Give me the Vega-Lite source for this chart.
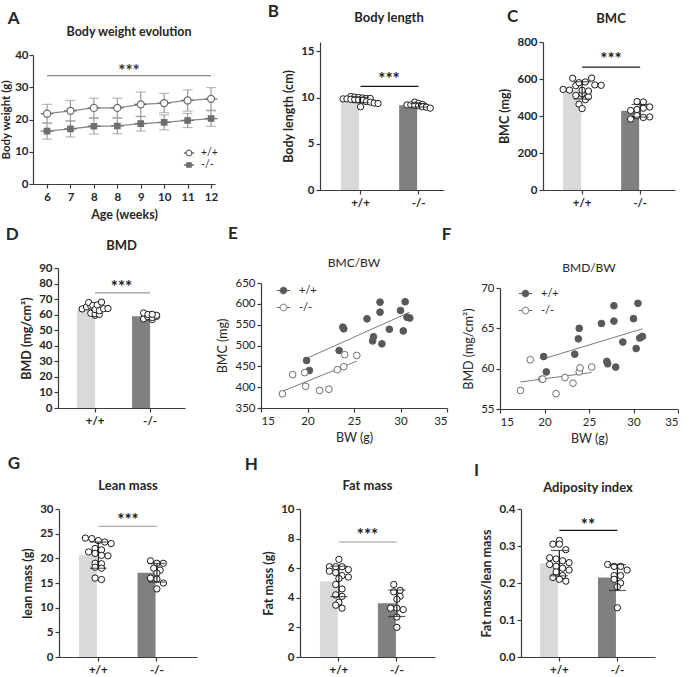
{
"$schema":"https://vega.github.io/schema/vega-lite/v6.json",
"background":"white",
"padding":{"left":0,"top":2,"right":0,"bottom":0},
"config":{
 "font":"Lato",
 "view":{"stroke":null},
 "axis":{"grid":false,"labelOverlap":false,"domainColor":"#3a3a3a","tickColor":"#3a3a3a","domainWidth":1.2,"tickWidth":1.2,"tickSize":4,"labelFont":"Lato","labelFontSize":11.5,"labelFontWeight":"bold","labelColor":"#262626","titleFont":"Lato","titleFontSize":12.5,"titleFontWeight":"bold","titleColor":"#262626","labelPadding":2,"titlePadding":5},
 "axisX":{"labelAngle":0,"labelPadding":3},
 "title":{"font":"Lato","fontSize":13,"fontWeight":"bold","color":"#262626"},
 "legend":{"labelFont":"Lato"}
},
"resolve":{"scale":{"color":"independent","fill":"independent","stroke":"independent","shape":"independent","xOffset":"independent"},"legend":{"color":"independent","fill":"independent","stroke":"independent","shape":"independent"}},
"datasets":{
 "A":[
  {"i":1,"g":"+/+","m":21.8,"sd":2.9},{"i":2,"g":"+/+","m":22.7,"sd":3.2},{"i":3,"g":"+/+","m":23.6,"sd":3.0},{"i":4,"g":"+/+","m":23.6,"sd":3.0},
  {"i":5,"g":"+/+","m":24.7,"sd":3.8},{"i":6,"g":"+/+","m":25.1,"sd":3.0},{"i":7,"g":"+/+","m":25.9,"sd":3.3},{"i":8,"g":"+/+","m":26.4,"sd":3.5},
  {"i":1,"g":"-/-","m":16.4,"sd":2.5},{"i":2,"g":"-/-","m":17.1,"sd":2.5},{"i":3,"g":"-/-","m":17.9,"sd":2.4},{"i":4,"g":"-/-","m":18.0,"sd":2.4},
  {"i":5,"g":"-/-","m":18.7,"sd":2.3},{"i":6,"g":"-/-","m":19.1,"sd":2.3},{"i":7,"g":"-/-","m":19.7,"sd":2.2},{"i":8,"g":"-/-","m":20.3,"sd":2.4}
 ],
 "scatter":[
  {"g":"+/+","BW":19.9,"BMC":464,"BMD":61.5},{"g":"+/+","BW":20.2,"BMC":440,"BMD":59.6},{"g":"+/+","BW":23.4,"BMC":488,"BMD":61.8},
  {"g":"+/+","BW":23.8,"BMC":544,"BMD":63.7},{"g":"+/+","BW":23.9,"BMC":540,"BMD":65.0},{"g":"+/+","BW":26.4,"BMC":564,"BMD":65.6},
  {"g":"+/+","BW":27.0,"BMC":511,"BMD":60.9},{"g":"+/+","BW":27.1,"BMC":521,"BMD":60.6},{"g":"+/+","BW":27.8,"BMC":604,"BMD":67.8},
  {"g":"+/+","BW":27.8,"BMC":580,"BMD":65.9},{"g":"+/+","BW":28.0,"BMC":504,"BMD":60.2},{"g":"+/+","BW":28.8,"BMC":539,"BMD":63.3},
  {"g":"+/+","BW":30.0,"BMC":584,"BMD":66.2},{"g":"+/+","BW":30.5,"BMC":605,"BMD":68.1},{"g":"+/+","BW":30.3,"BMC":535,"BMD":62.5},
  {"g":"+/+","BW":30.7,"BMC":568,"BMD":63.8},{"g":"+/+","BW":31.0,"BMC":566,"BMD":64.0},
  {"g":"-/-","BW":17.3,"BMC":384,"BMD":57.3},{"g":"-/-","BW":18.4,"BMC":430,"BMD":61.1},{"g":"-/-","BW":19.7,"BMC":435,"BMD":58.7},
  {"g":"-/-","BW":19.8,"BMC":402,"BMD":58.7},{"g":"-/-","BW":21.3,"BMC":392,"BMD":56.9},{"g":"-/-","BW":22.3,"BMC":395,"BMD":58.9},
  {"g":"-/-","BW":23.2,"BMC":442,"BMD":58.2},{"g":"-/-","BW":23.9,"BMC":449,"BMD":59.6},{"g":"-/-","BW":24.0,"BMC":478,"BMD":60.1},
  {"g":"-/-","BW":25.3,"BMC":476,"BMD":60.2}
 ],
 "B":[
  {"g":"+/+","v":10.1},{"g":"+/+","v":10.05},{"g":"+/+","v":10.0},{"g":"+/+","v":9.95},{"g":"+/+","v":9.9},{"g":"+/+","v":9.9},{"g":"+/+","v":9.85},{"g":"+/+","v":9.85},{"g":"+/+","v":9.8},{"g":"+/+","v":9.8},{"g":"+/+","v":9.75},{"g":"+/+","v":9.7},{"g":"+/+","v":9.55},{"g":"+/+","v":9.5},{"g":"+/+","v":9.4},{"g":"+/+","v":9.35},{"g":"+/+","v":9.0},
  {"g":"-/-","v":9.5},{"g":"-/-","v":9.35},{"g":"-/-","v":9.25},{"g":"-/-","v":9.2},{"g":"-/-","v":9.2},{"g":"-/-","v":9.15},{"g":"-/-","v":9.1},{"g":"-/-","v":9.0},{"g":"-/-","v":8.95},{"g":"-/-","v":8.85}
 ],
 "G":[
  {"g":"+/+","v":24.1},{"g":"+/+","v":24.0},{"g":"+/+","v":23.6},{"g":"+/+","v":23.3},{"g":"+/+","v":23.0},{"g":"+/+","v":22.0},{"g":"+/+","v":21.7},{"g":"+/+","v":21.3},{"g":"+/+","v":21.0},{"g":"+/+","v":20.6},{"g":"+/+","v":20.5},{"g":"+/+","v":19.0},{"g":"+/+","v":18.9},{"g":"+/+","v":18.2},{"g":"+/+","v":18.0},{"g":"+/+","v":16.0},{"g":"+/+","v":15.7},
  {"g":"-/-","v":19.5},{"g":"-/-","v":19.0},{"g":"-/-","v":19.0},{"g":"-/-","v":18.0},{"g":"-/-","v":17.6},{"g":"-/-","v":17.0},{"g":"-/-","v":16.0},{"g":"-/-","v":15.8},{"g":"-/-","v":15.0},{"g":"-/-","v":13.8}
 ],
 "H":[
  {"g":"+/+","v":6.6},{"g":"+/+","v":6.1},{"g":"+/+","v":6.1},{"g":"+/+","v":6.1},{"g":"+/+","v":5.9},{"g":"+/+","v":5.8},{"g":"+/+","v":5.7},{"g":"+/+","v":5.5},{"g":"+/+","v":5.4},{"g":"+/+","v":5.3},{"g":"+/+","v":4.9},{"g":"+/+","v":4.6},{"g":"+/+","v":4.2},{"g":"+/+","v":4.1},{"g":"+/+","v":3.7},{"g":"+/+","v":3.5},{"g":"+/+","v":3.3},
  {"g":"-/-","v":4.9},{"g":"-/-","v":4.5},{"g":"-/-","v":4.4},{"g":"-/-","v":4.1},{"g":"-/-","v":3.9},{"g":"-/-","v":3.3},{"g":"-/-","v":3.3},{"g":"-/-","v":3.2},{"g":"-/-","v":2.7},{"g":"-/-","v":2.0}
 ],
 "I":[
  {"g":"+/+","v":0.315},{"g":"+/+","v":0.305},{"g":"+/+","v":0.305},{"g":"+/+","v":0.29},{"g":"+/+","v":0.268},{"g":"+/+","v":0.265},{"g":"+/+","v":0.26},{"g":"+/+","v":0.255},{"g":"+/+","v":0.25},{"g":"+/+","v":0.245},{"g":"+/+","v":0.24},{"g":"+/+","v":0.235},{"g":"+/+","v":0.23},{"g":"+/+","v":0.22},{"g":"+/+","v":0.215},{"g":"+/+","v":0.21},{"g":"+/+","v":0.205},
  {"g":"-/-","v":0.25},{"g":"-/-","v":0.245},{"g":"-/-","v":0.245},{"g":"-/-","v":0.235},{"g":"-/-","v":0.22},{"g":"-/-","v":0.22},{"g":"-/-","v":0.21},{"g":"-/-","v":0.2},{"g":"-/-","v":0.19},{"g":"-/-","v":0.133}
 ]
},
"spacing":3,
"vconcat":[
 {"spacing":46,"resolve":{"scale":{"color":"independent","fill":"independent","stroke":"independent","shape":"independent","xOffset":"independent"},"legend":{"color":"independent","fill":"independent","stroke":"independent","shape":"independent"}},"hconcat":[
  {"title":{"text":"A","anchor":"start","frame":"bounds","fontSize":17,"offset":-2.3,"dx":7},
   "resolve":{"scale":{"fill":"independent","stroke":"independent","shape":"independent"},"legend":{"fill":"independent","stroke":"independent","shape":"independent"}},
   "vconcat":[{
    "title":{"text":"Body weight evolution","frame":"group","offset":3.7,"dx":5,"fontSize":12.5},
    "width":182,"height":142,
    "data":{"name":"A"},
    "layer":[
     {"mark":{"type":"errorbar","ticks":true,"size":10,"thickness":1.2,"color":"#9a9a9a"},
      "encoding":{"x":{"field":"i","type":"ordinal","title":"Age (weeks)","scale":{"type":"point","padding":0.384,"align":0.78},"axis":{"labelExpr":"['6','7','8','8','9','10','11','12'][datum.value-1]","labelAngle":0,"titlePadding":6}},
       "y":{"field":"m","type":"quantitative","title":"Body weight (g)","scale":{"domain":[0,40],"range":[142,13]},"axis":{"values":[0,10,20,30,40],"tickCount":20,"labelPadding":1,"titlePadding":3,"titleFontSize":11.5}},
       "yError":{"field":"sd"}}},
     {"mark":{"type":"line","color":"#8a8a8a","strokeWidth":1.3},
      "encoding":{"x":{"field":"i","type":"ordinal","title":"Age (weeks)"},"y":{"field":"m","type":"quantitative","title":"Body weight (g)"},"detail":{"field":"g"}}},
     {"mark":{"type":"point","filled":true,"size":162,"strokeWidth":1.3,"opacity":1},
      "encoding":{"x":{"field":"i","type":"ordinal","title":"Age (weeks)"},"y":{"field":"m","type":"quantitative","title":"Body weight (g)"},
       "shape":{"field":"g","type":"nominal","scale":{"domain":["+/+","-/-"],"range":["M-1,0H-0.55M0.55,0H1M0.55,0A0.55,0.55,0,1,1,-0.55,0A0.55,0.55,0,1,1,0.55,0","M-1,0H-0.42M0.42,0H1M-0.42,-0.42H0.42V0.42H-0.42Z"]},
        "legend":{"title":null,"orient":"none","legendX":150,"legendY":105,"padding":0,"symbolSize":105,"symbolStrokeWidth":1.3,"labelFontSize":10.5,"labelFontWeight":"normal","labelColor":"#262626","rowPadding":0,"labelOffset":6}},
       "stroke":{"field":"g","type":"nominal","scale":{"domain":["+/+","-/-"],"range":["#6e6e6e","#6e6e6e"]},
        "legend":{"title":null,"orient":"none","legendX":150,"legendY":105,"padding":0,"symbolSize":105,"symbolStrokeWidth":1.3,"labelFontSize":10.5,"labelFontWeight":"normal","labelColor":"#262626","rowPadding":0,"labelOffset":6}},
       "fill":{"field":"g","type":"nominal","scale":{"domain":["+/+","-/-"],"range":["#ffffff","#6e6e6e"]},
        "legend":{"title":null,"orient":"none","legendX":150,"legendY":105,"padding":0,"symbolSize":105,"symbolStrokeWidth":1.3,"labelFontSize":10.5,"labelFontWeight":"normal","labelColor":"#262626","rowPadding":0,"labelOffset":6}}}},
     {"data":{"values":[{"a":1,"b":8,"y":33.6,"ys":36.1,"t":"***"}]},"mark":{"type":"rule","color":"#8a8a8a","strokeWidth":1.2},
      "encoding":{"x":{"field":"a","type":"ordinal","title":"Age (weeks)"},"x2":{"field":"b"},"y":{"field":"y","type":"quantitative","title":"Body weight (g)"}}},
     {"data":{"values":[{"a":1,"b":8,"y":33.6,"ys":36.1,"t":"***"}]},"mark":{"type":"text","fontSize":17,"fontWeight":"bold","color":"#333333","dx":5,"dy":4},
      "encoding":{"y":{"field":"ys","type":"quantitative","title":"Body weight (g)"},"text":{"field":"t"}}}
    ]
   }]
  },
  {"spacing":54,"resolve":{"scale":{"color":"independent","fill":"independent","stroke":"independent","shape":"independent","xOffset":"independent"},"legend":{"color":"independent","fill":"independent","stroke":"independent","shape":"independent"}},"hconcat":[
   {"title":{"text":"B","anchor":"start","frame":"bounds","fontSize":17,"offset":-8.8,"dx":-15},
    "vconcat":[{
     "title":{"text":"Body length","frame":"group","offset":17.2,"dx":7},
     "width":124,"height":148,
     "data":{"name":"B"},
     "layer":[
      {"mark":{"type":"bar","opacity":1},"encoding":{"x":{"field":"g","type":"nominal","title":null,"scale":{"domain":["+/+","-/-"],"paddingInner":0.33,"paddingOuter":0.233,"align":0.78},"axis":{"labelAngle":0}},
        "y":{"aggregate":"mean","field":"v","type":"quantitative","title":"Body length (cm)","scale":{"domain":[0,15]},"axis":{"values":[0,5,10,15],"tickCount":20}},
        "color":{"field":"g","type":"nominal","scale":{"domain":["+/+","-/-"],"range":["#d9d9d9","#808080"]},"legend":null}}},
      {"transform":[{"bin":{"step":0.66},"field":"v","as":"vb"},{"window":[{"op":"row_number","as":"r"},{"op":"count","as":"n"}],"groupby":["g","vb"],"frame":[null,null]},{"calculate":"datum.r-(datum.n+1)/2","as":"off"}],
       "mark":{"type":"point","filled":true,"fill":"#ffffff","stroke":"#1a1a1a","strokeWidth":1,"size":40,"opacity":1},
       "encoding":{"x":{"field":"g","type":"nominal","title":null},"xOffset":{"field":"off","type":"quantitative","scale":{"domain":[-5,5]}},"y":{"field":"v","type":"quantitative","title":"Body length (cm)"}}},
      {"mark":{"type":"errorbar","extent":"stdev","ticks":true,"size":17,"thickness":1.2,"color":"#1a1a1a"},"encoding":{"x":{"field":"g","type":"nominal","title":null},"y":{"field":"v","type":"quantitative","title":"Body length (cm)"}}},
      {"data":{"values":[{"a":"+/+","b":"-/-","y":11.2,"ys":12.3,"t":"***"}]},"mark":{"type":"rule","color":"#1a1a1a","strokeWidth":1.2},
       "encoding":{"x":{"field":"a","type":"nominal","title":null},"x2":{"field":"b"},"y":{"field":"y","type":"quantitative","title":"Body length (cm)"}}},
      {"data":{"values":[{"a":"+/+","b":"-/-","y":11.2,"ys":12.3,"t":"***"}]},"mark":{"type":"text","fontSize":17,"fontWeight":"bold","color":"#1a1a1a","dx":7,"dy":4},
       "encoding":{"y":{"field":"ys","type":"quantitative","title":"Body length (cm)"},"text":{"field":"t"}}}
     ]
    }]
   },
   {"title":{"text":"C","anchor":"start","frame":"bounds","fontSize":17,"offset":-13,"dx":8},
    "vconcat":[{
     "title":{"text":"BMC","frame":"group","offset":10.2,"dx":2},
     "width":132,"height":148,
     "data":{"name":"scatter"},
     "layer":[
      {"mark":{"type":"bar","opacity":1},"encoding":{"x":{"field":"g","type":"nominal","title":null,"scale":{"domain":["+/+","-/-"],"paddingInner":0.345,"paddingOuter":0.31,"align":0.56},"axis":{"labelAngle":0}},
        "y":{"aggregate":"mean","field":"BMC","type":"quantitative","title":"BMC (mg)","scale":{"domain":[0,800]},"axis":{"values":[0,200,400,600,800],"tickCount":20}},
        "color":{"field":"g","type":"nominal","scale":{"domain":["+/+","-/-"],"range":["#d9d9d9","#808080"]},"legend":null}}},
      {"transform":[{"bin":{"step":38},"field":"BMC","as":"vb"},{"window":[{"op":"row_number","as":"r"},{"op":"count","as":"n"}],"groupby":["g","vb"],"frame":[null,null]},{"calculate":"datum.r-(datum.n+1)/2","as":"off"}],
       "mark":{"type":"point","filled":true,"fill":"#ffffff","stroke":"#1a1a1a","strokeWidth":1,"size":40,"opacity":1},
       "encoding":{"x":{"field":"g","type":"nominal","title":null},"xOffset":{"field":"off","type":"quantitative","scale":{"domain":[-3,3]}},"y":{"field":"BMC","type":"quantitative","title":"BMC (mg)"}}},
      {"mark":{"type":"errorbar","extent":"stdev","ticks":true,"size":17,"thickness":1.2,"color":"#1a1a1a"},"encoding":{"x":{"field":"g","type":"nominal","title":null},"y":{"field":"BMC","type":"quantitative","title":"BMC (mg)"}}},
      {"data":{"values":[{"a":"+/+","b":"-/-","y":664,"ys":722,"t":"***"}]},"mark":{"type":"rule","color":"#1a1a1a","strokeWidth":1.2},
       "encoding":{"x":{"field":"a","type":"nominal","title":null},"x2":{"field":"b"},"y":{"field":"y","type":"quantitative","title":"BMC (mg)"}}},
      {"data":{"values":[{"a":"+/+","b":"-/-","y":664,"ys":722,"t":"***"}]},"mark":{"type":"text","fontSize":17,"fontWeight":"bold","color":"#1a1a1a","dx":2,"dy":4},
       "encoding":{"y":{"field":"ys","type":"quantitative","title":"BMC (mg)"},"text":{"field":"t"}}}
     ]
    }]
   }
  ]}
 ]},
 {"spacing":10,"resolve":{"scale":{"color":"independent","fill":"independent","stroke":"independent","shape":"independent","xOffset":"independent"},"legend":{"color":"independent","fill":"independent","stroke":"independent","shape":"independent"}},"vconcat":[
 {"spacing":31,"resolve":{"scale":{"color":"independent","fill":"independent","stroke":"independent","shape":"independent","xOffset":"independent"},"legend":{"color":"independent","fill":"independent","stroke":"independent","shape":"independent"}},"hconcat":[
  {"title":{"text":"D","anchor":"start","frame":"bounds","fontSize":17,"offset":-4.3,"dx":-15},
   "vconcat":[{
    "title":{"text":"BMD","frame":"group","offset":9.2,"dx":12.5},
    "width":152,"height":140,
    "data":{"name":"scatter"},
    "layer":[
     {"mark":{"type":"bar","opacity":1},"encoding":{"x":{"field":"g","type":"nominal","title":null,"scale":{"domain":["+/+","-/-"],"range":[25,152],"paddingInner":0.345,"paddingOuter":0.327,"align":0.53},"axis":{"labelAngle":0}},
       "y":{"aggregate":"mean","field":"BMD","type":"quantitative","title":"BMD (mg/cm²)","scale":{"domain":[0,90]},"axis":{"values":[0,10,20,30,40,50,60,70,80,90],"tickCount":20,"offset":-25}},
       "color":{"field":"g","type":"nominal","scale":{"domain":["+/+","-/-"],"range":["#d9d9d9","#808080"]},"legend":null}}},
     {"transform":[{"bin":{"step":4.2},"field":"BMD","as":"vb"},{"window":[{"op":"row_number","as":"r"},{"op":"count","as":"n"}],"groupby":["g","vb"],"frame":[null,null]},{"calculate":"datum.r-(datum.n+1)/2","as":"off"}],
      "mark":{"type":"point","filled":true,"fill":"#ffffff","stroke":"#1a1a1a","strokeWidth":1,"size":40,"opacity":1},
      "encoding":{"x":{"field":"g","type":"nominal","title":null},"xOffset":{"field":"off","type":"quantitative","scale":{"domain":[-4.2,4.2]}},"y":{"field":"BMD","type":"quantitative","title":"BMD (mg/cm²)"}}},
     {"data":{"values":[{"a":"+/+","b":"-/-","y":74,"ys":80,"t":"***"}]},"mark":{"type":"rule","color":"#9a9a9a","strokeWidth":1.2},
      "encoding":{"x":{"field":"a","type":"nominal","title":null},"x2":{"field":"b"},"y":{"field":"y","type":"quantitative","title":"BMD (mg/cm²)"}}},
     {"data":{"values":[{"a":"+/+","b":"-/-","y":74,"ys":80,"t":"***"}]},"mark":{"type":"text","fontSize":17,"fontWeight":"bold","color":"#1a1a1a","dy":4,"dx":12.5},
      "encoding":{"y":{"field":"ys","type":"quantitative","title":"BMD (mg/cm²)"},"text":{"field":"t"}}}
    ]
   }]
  },
  {"spacing":-7,"resolve":{"scale":{"color":"independent","fill":"independent","stroke":"independent","shape":"independent","xOffset":"independent"},"legend":{"color":"independent","fill":"independent","stroke":"independent","shape":"independent"}},"hconcat":[
   {"title":{"text":"E","anchor":"start","frame":"bounds","fontSize":17,"offset":14.7,"dx":11},
    "resolve":{"scale":{"fill":"independent","stroke":"independent"},"legend":{"fill":"independent","stroke":"independent"}},
    "vconcat":[{
     "title":{"text":"BMC/BW","frame":"group","offset":-2.3,"fontWeight":"normal","fontSize":12},
     "width":186,"height":140,
     "data":{"name":"scatter"},
     "layer":[
      {"transform":[{"regression":"BMC","on":"BW","groupby":["g"]}],"mark":{"type":"line","color":"#7a7a7a","strokeWidth":1},
       "encoding":{"x":{"field":"BW","type":"quantitative","title":"BW (g)","scale":{"domain":[15,35],"nice":false},"axis":{"values":[15,20,25,30,35],"tickCount":20,"labelFontWeight":"normal","titleFontWeight":"normal"}},
        "y":{"field":"BMC","type":"quantitative","title":"BMC (mg)","scale":{"domain":[350,650],"nice":false,"range":[140,15]},"axis":{"values":[350,400,450,500,550,600,650],"tickCount":20,"labelFontWeight":"normal","titleFontWeight":"normal"}},
        "detail":{"field":"g"}}},
      {"mark":{"type":"point","filled":true,"size":45,"strokeWidth":1,"opacity":1},
       "encoding":{"x":{"field":"BW","type":"quantitative","title":"BW (g)"},"y":{"field":"BMC","type":"quantitative","title":"BMC (mg)"},
        "fill":{"field":"g","type":"nominal","scale":{"domain":["+/+","-/-"],"range":["#595959","#ffffff"]},
         "legend":{"title":null,"orient":"top-left","offset":15,"padding":0,"symbolType":"M-1,0H-0.5M0.5,0H1M0.5,0A0.5,0.5,0,1,1,-0.5,0A0.5,0.5,0,1,1,0.5,0","symbolSize":180,"symbolStrokeWidth":1,"labelFontSize":11,"labelFontWeight":"normal","labelColor":"#262626","rowPadding":4,"labelOffset":8}},
        "stroke":{"field":"g","type":"nominal","scale":{"domain":["+/+","-/-"],"range":["#595959","#6e6e6e"]},
         "legend":{"title":null,"orient":"top-left","offset":15,"padding":0,"symbolType":"M-1,0H-0.5M0.5,0H1M0.5,0A0.5,0.5,0,1,1,-0.5,0A0.5,0.5,0,1,1,0.5,0","symbolSize":180,"symbolStrokeWidth":1,"labelFontSize":11,"labelFontWeight":"normal","labelColor":"#262626","rowPadding":4,"labelOffset":8}}}}
     ]
    }]
   },
   {"title":{"text":"F","anchor":"start","frame":"bounds","fontSize":17,"offset":18.7,"dx":-21},
    "resolve":{"scale":{"fill":"independent","stroke":"independent"},"legend":{"fill":"independent","stroke":"independent"}},
    "vconcat":[{
     "title":{"text":"BMD/BW","frame":"group","offset":-7.3,"fontWeight":"normal","fontSize":12},
     "width":178,"height":141,
     "data":{"name":"scatter"},
     "layer":[
      {"transform":[{"regression":"BMD","on":"BW","groupby":["g"]}],"mark":{"type":"line","color":"#7a7a7a","strokeWidth":1},
       "encoding":{"x":{"field":"BW","type":"quantitative","title":"BW (g)","scale":{"domain":[15,35],"nice":false},"axis":{"values":[15,20,25,30,35],"tickCount":20,"labelFontWeight":"normal","titleFontWeight":"normal"}},
        "y":{"field":"BMD","type":"quantitative","title":"BMD (mg/cm²)","scale":{"domain":[55,70],"nice":false,"range":[141,20]},"axis":{"values":[55,60,65,70],"tickCount":20,"labelFontWeight":"normal","titleFontWeight":"normal"}},
        "detail":{"field":"g"}}},
      {"mark":{"type":"point","filled":true,"size":45,"strokeWidth":1,"opacity":1},
       "encoding":{"x":{"field":"BW","type":"quantitative","title":"BW (g)"},"y":{"field":"BMD","type":"quantitative","title":"BMD (mg/cm²)"},
        "fill":{"field":"g","type":"nominal","scale":{"domain":["+/+","-/-"],"range":["#595959","#ffffff"]},
         "legend":{"title":null,"orient":"top-left","offset":18,"padding":0,"symbolType":"M-1,0H-0.5M0.5,0H1M0.5,0A0.5,0.5,0,1,1,-0.5,0A0.5,0.5,0,1,1,0.5,0","symbolSize":180,"symbolStrokeWidth":1,"labelFontSize":11,"labelFontWeight":"normal","labelColor":"#262626","rowPadding":4,"labelOffset":8}},
        "stroke":{"field":"g","type":"nominal","scale":{"domain":["+/+","-/-"],"range":["#595959","#6e6e6e"]},
         "legend":{"title":null,"orient":"top-left","offset":18,"padding":0,"symbolType":"M-1,0H-0.5M0.5,0H1M0.5,0A0.5,0.5,0,1,1,-0.5,0A0.5,0.5,0,1,1,0.5,0","symbolSize":180,"symbolStrokeWidth":1,"labelFontSize":11,"labelFontWeight":"normal","labelColor":"#262626","rowPadding":4,"labelOffset":8}}}}
     ]
    }]
   }
  ]}
 ]},
 {"spacing":47,"resolve":{"scale":{"color":"independent","fill":"independent","stroke":"independent","shape":"independent","xOffset":"independent"},"legend":{"color":"independent","fill":"independent","stroke":"independent","shape":"independent"}},"hconcat":[
  {"title":{"text":"G","anchor":"start","frame":"bounds","fontSize":17,"offset":6.7,"dx":-14},
   "vconcat":[{
    "title":{"text":"Lean mass","frame":"group","offset":10.2,"dx":13},
    "width":164,"height":148,
    "data":{"name":"G"},
    "layer":[
     {"mark":{"type":"bar","opacity":1},"encoding":{"x":{"field":"g","type":"nominal","title":null,"scale":{"domain":["+/+","-/-"],"range":[26,164],"paddingInner":0.34,"paddingOuter":0.347,"align":0.49},"axis":{"labelAngle":0}},
       "y":{"aggregate":"mean","field":"v","type":"quantitative","title":"lean mass (g)","scale":{"domain":[0,30]},"axis":{"values":[0,5,10,15,20,25,30],"tickCount":20,"offset":-26}},
       "color":{"field":"g","type":"nominal","scale":{"domain":["+/+","-/-"],"range":["#d9d9d9","#808080"]},"legend":null}}},
     {"transform":[{"bin":{"step":1.35},"field":"v","as":"vb"},{"window":[{"op":"row_number","as":"r"},{"op":"count","as":"n"}],"groupby":["g","vb"],"frame":[null,null]},{"calculate":"datum.r-(datum.n+1)/2","as":"off"}],
      "mark":{"type":"point","filled":true,"fill":"#ffffff","stroke":"#1a1a1a","strokeWidth":1,"size":40,"opacity":1},
      "encoding":{"x":{"field":"g","type":"nominal","title":null},"xOffset":{"field":"off","type":"quantitative","scale":{"domain":[-3,3]}},"y":{"field":"v","type":"quantitative","title":"lean mass (g)"}}},
     {"mark":{"type":"errorbar","extent":"stdev","ticks":true,"size":17,"thickness":1.2,"color":"#1a1a1a"},"encoding":{"x":{"field":"g","type":"nominal","title":null},"y":{"field":"v","type":"quantitative","title":"lean mass (g)"}}},
     {"data":{"values":[{"a":"+/+","b":"-/-","y":26.5,"ys":28.4,"t":"***"}]},"mark":{"type":"rule","color":"#9a9a9a","strokeWidth":1.2},
      "encoding":{"x":{"field":"a","type":"nominal","title":null},"x2":{"field":"b"},"y":{"field":"y","type":"quantitative","title":"lean mass (g)"}}},
     {"data":{"values":[{"a":"+/+","b":"-/-","y":26.5,"ys":28.4,"t":"***"}]},"mark":{"type":"text","fontSize":17,"fontWeight":"bold","color":"#1a1a1a","dy":4,"dx":13},
      "encoding":{"y":{"field":"ys","type":"quantitative","title":"lean mass (g)"},"text":{"field":"t"}}}
    ]
   }]
  },
  {"spacing":38,"resolve":{"scale":{"color":"independent","fill":"independent","stroke":"independent","shape":"independent","xOffset":"independent"},"legend":{"color":"independent","fill":"independent","stroke":"independent","shape":"independent"}},"hconcat":[
   {"title":{"text":"H","anchor":"start","frame":"bounds","fontSize":17,"offset":5.7,"dx":-18},
    "vconcat":[{
     "title":{"text":"Fat mass","frame":"group","offset":10.2},
     "width":135,"height":148,
     "data":{"name":"H"},
     "layer":[
      {"mark":{"type":"bar","opacity":1},"encoding":{"x":{"field":"g","type":"nominal","title":null,"scale":{"domain":["+/+","-/-"],"paddingInner":0.345,"paddingOuter":0.336,"align":0.51},"axis":{"labelAngle":0}},
        "y":{"aggregate":"mean","field":"v","type":"quantitative","title":"Fat mass (g)","scale":{"domain":[0,10]},"axis":{"values":[0,2,4,6,8,10],"format":"d","tickCount":20}},
        "color":{"field":"g","type":"nominal","scale":{"domain":["+/+","-/-"],"range":["#d9d9d9","#808080"]},"legend":null}}},
      {"transform":[{"bin":{"step":0.45},"field":"v","as":"vb"},{"window":[{"op":"row_number","as":"r"},{"op":"count","as":"n"}],"groupby":["g","vb"],"frame":[null,null]},{"calculate":"datum.r-(datum.n+1)/2","as":"off"}],
       "mark":{"type":"point","filled":true,"fill":"#ffffff","stroke":"#1a1a1a","strokeWidth":1,"size":40,"opacity":1},
       "encoding":{"x":{"field":"g","type":"nominal","title":null},"xOffset":{"field":"off","type":"quantitative","scale":{"domain":[-3,3]}},"y":{"field":"v","type":"quantitative","title":"Fat mass (g)"}}},
      {"mark":{"type":"errorbar","extent":"stdev","ticks":true,"size":17,"thickness":1.2,"color":"#1a1a1a"},"encoding":{"x":{"field":"g","type":"nominal","title":null},"y":{"field":"v","type":"quantitative","title":"Fat mass (g)"}}},
      {"data":{"values":[{"a":"+/+","b":"-/-","y":7.77,"ys":8.42,"t":"***"}]},"mark":{"type":"rule","color":"#9a9a9a","strokeWidth":1.2},
       "encoding":{"x":{"field":"a","type":"nominal","title":null},"x2":{"field":"b"},"y":{"field":"y","type":"quantitative","title":"Fat mass (g)"}}},
      {"data":{"values":[{"a":"+/+","b":"-/-","y":7.77,"ys":8.42,"t":"***"}]},"mark":{"type":"text","fontSize":17,"fontWeight":"bold","color":"#1a1a1a","dy":4},
       "encoding":{"y":{"field":"ys","type":"quantitative","title":"Fat mass (g)"},"text":{"field":"t"}}}
     ]
    }]
   },
   {"title":{"text":"I","anchor":"start","frame":"bounds","fontSize":17,"offset":1.7,"dx":-7},
    "vconcat":[{
     "title":{"text":"Adiposity index","frame":"group","offset":8.2},
     "width":134,"height":148,
     "data":{"name":"I"},
     "layer":[
      {"mark":{"type":"bar","opacity":1},"encoding":{"x":{"field":"g","type":"nominal","title":null,"scale":{"domain":["+/+","-/-"],"paddingInner":0.33,"paddingOuter":0.32,"align":0.51},"axis":{"labelAngle":0}},
        "y":{"aggregate":"mean","field":"v","type":"quantitative","title":"Fat mass/lean mass","scale":{"domain":[0,0.4]},"axis":{"values":[0,0.1,0.2,0.3,0.4],"format":".1f","tickCount":20}},
        "color":{"field":"g","type":"nominal","scale":{"domain":["+/+","-/-"],"range":["#d9d9d9","#808080"]},"legend":null}}},
      {"transform":[{"bin":{"step":0.018},"field":"v","as":"vb"},{"window":[{"op":"row_number","as":"r"},{"op":"count","as":"n"}],"groupby":["g","vb"],"frame":[null,null]},{"calculate":"datum.r-(datum.n+1)/2","as":"off"}],
       "mark":{"type":"point","filled":true,"fill":"#ffffff","stroke":"#1a1a1a","strokeWidth":1,"size":40,"opacity":1},
       "encoding":{"x":{"field":"g","type":"nominal","title":null},"xOffset":{"field":"off","type":"quantitative","scale":{"domain":[-3,3]}},"y":{"field":"v","type":"quantitative","title":"Fat mass/lean mass"}}},
      {"mark":{"type":"errorbar","extent":"stdev","ticks":true,"size":17,"thickness":1.2,"color":"#1a1a1a"},"encoding":{"x":{"field":"g","type":"nominal","title":null},"y":{"field":"v","type":"quantitative","title":"Fat mass/lean mass"}}},
      {"data":{"values":[{"a":"+/+","b":"-/-","y":0.342,"ys":0.366,"t":"**"}]},"mark":{"type":"rule","color":"#1a1a1a","strokeWidth":1.2},
       "encoding":{"x":{"field":"a","type":"nominal","title":null},"x2":{"field":"b"},"y":{"field":"y","type":"quantitative","title":"Fat mass/lean mass"}}},
      {"data":{"values":[{"a":"+/+","b":"-/-","y":0.342,"ys":0.366,"t":"**"}]},"mark":{"type":"text","fontSize":17,"fontWeight":"bold","color":"#1a1a1a","dy":4},
       "encoding":{"y":{"field":"ys","type":"quantitative","title":"Fat mass/lean mass"},"text":{"field":"t"}}}
     ]
    }]
   }
  ]}
 ]}
 ]}
]
}
